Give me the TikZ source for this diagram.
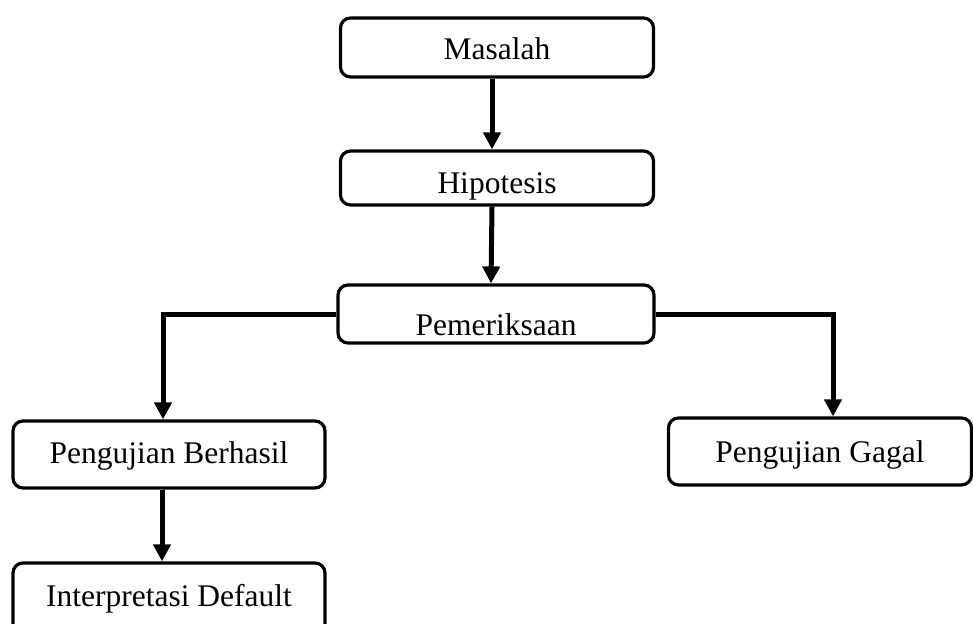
\documentclass[tikz,border=0pt]{standalone}
\usepackage{fontspec}
\setmainfont{Liberation Serif}
\usetikzlibrary{arrows.meta}
\begin{document}
\begin{tikzpicture}[x=1pt,y=1pt,
  box/.style={draw=black, line width=3.2pt, rounded corners=10pt, inner sep=0pt,
    font=\fontsize{31.5}{36}\selectfont, text depth=0pt},
  conn/.style={line width=5pt, -{Triangle[length=17pt,width=17pt]}}]
\clip (0,0) rectangle (973,-623);
\node[box, minimum width=313pt, minimum height=59pt, text height=25pt] (m) at (497,-47.5) {Masalah};
\node[box, minimum width=313pt, minimum height=54pt, text height=30pt] (h) at (497,-178) {Hipotesis};
\node[box, minimum width=316pt, minimum height=58pt, text height=42pt] (p) at (496,-314) {Pemeriksaan};
\node[box, minimum width=312pt, minimum height=67pt, text height=17pt] (b) at (169,-454.5) {Pengujian Berhasil};
\node[box, minimum width=303pt, minimum height=67pt, text height=21pt] (g) at (820,-451.5) {Pengujian Gagal};
\node[box, minimum width=312pt, minimum height=76pt, text height=10pt] (i) at (169,-601) {Interpretasi Default};
\draw[conn] ([xshift=-5pt]m.south) -- ([xshift=-5pt]h.north);
\draw[conn] ([xshift=-5pt]h.south) -- ([xshift=-5pt]p.north);
\draw[conn] (p.west) -| ([xshift=-6pt]b.north);
\draw[conn] (p.east) -| ([xshift=13pt]g.north);
\draw[conn] ([xshift=-7pt]b.south) -- ([xshift=-7pt]i.north);
\end{tikzpicture}
\end{document}
